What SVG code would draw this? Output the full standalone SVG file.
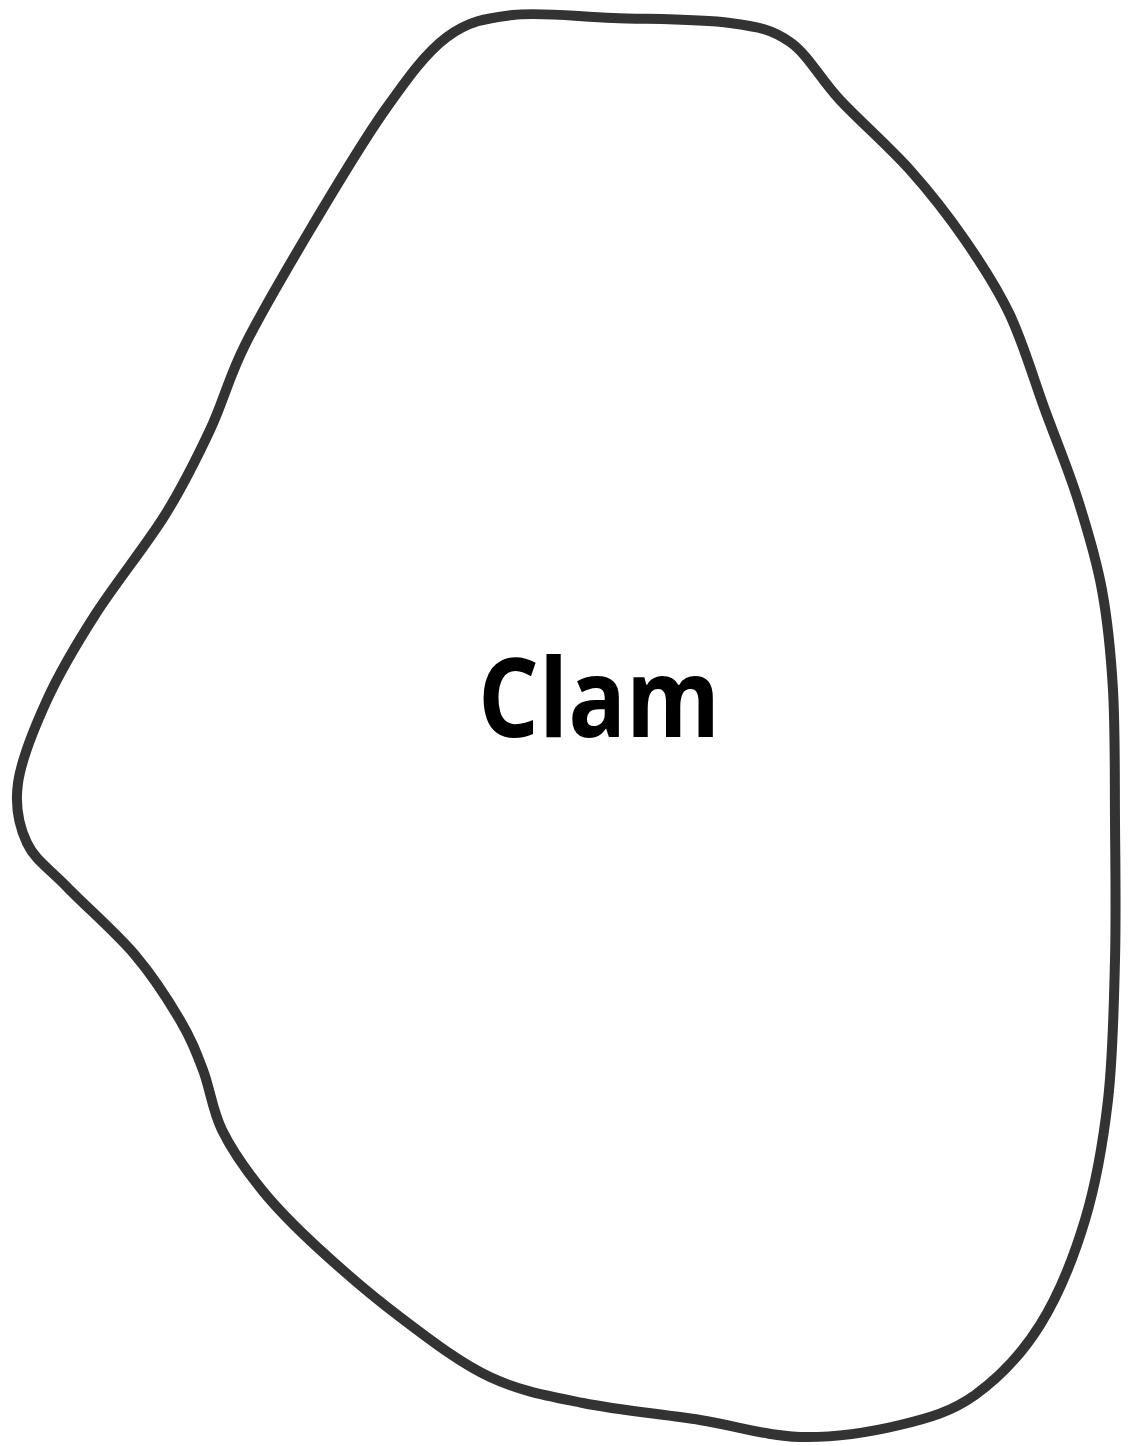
<svg xmlns="http://www.w3.org/2000/svg" width="1131" height="1446" viewBox="0 0 1131 1446">
<style>
.outline{fill:#ffffff;stroke:#333333;stroke-width:10;stroke-linejoin:round}
.label{font-family:"Open Sans","Liberation Sans",sans-serif;font-weight:700;font-size:110px;fill:#000000}
</style>
<rect width="1131" height="1446" fill="#ffffff"/>
<g id="clam">
<path class="outline" d="M 513 15 C 540.7 11.8, 576.8 16.7, 613 18 C 649.2 19.3, 700.5 19, 730 23 C 759.5 27, 771.7 29.2, 790 42 C 808.3 54.8, 820 78.7, 840 100 C 860 121.3, 889.2 146.7, 910 170 C 930.8 193.3, 948.3 215.8, 965 240 C 981.7 264.2, 996.7 286.7, 1010 315 C 1023.3 343.3, 1033.7 379.2, 1045 410 C 1056.3 440.8, 1068.5 470, 1078 500 C 1087.5 530, 1096.2 558.3, 1102 590 C 1107.8 621.7, 1110.8 651.7, 1113 690 C 1115.2 728.3, 1114.7 775, 1115 820 C 1115.3 865, 1116.2 913.3, 1115 960 C 1113.8 1006.7, 1113 1056.7, 1108 1100 C 1103 1143.3, 1096.3 1182.5, 1085 1220 C 1073.7 1257.5, 1058.3 1295.8, 1040 1325 C 1021.7 1354.2, 998.3 1378.3, 975 1395 C 951.7 1411.7, 929.2 1418, 900 1425 C 870.8 1432, 833.3 1437.8, 800 1437 C 766.7 1436.2, 736.2 1425.7, 700 1420 C 663.8 1414.3, 618 1410.2, 583 1403 C 548 1395.8, 520.5 1391.3, 490 1377 C 459.5 1362.7, 428.8 1338.7, 400 1317 C 371.2 1295.3, 340 1268.2, 317 1247 C 294 1225.8, 277.8 1209.5, 262 1190 C 246.2 1170.5, 231.8 1150, 222 1130 C 212.2 1110, 210 1088.3, 203 1070 C 196 1051.7, 191.3 1039.2, 180 1020 C 168.7 1000.8, 153.8 977.2, 135 955 C 116.2 932.8, 85 905.7, 67 887 C 49 868.3, 35.2 860.3, 27 843 C 18.8 825.7, 14.7 806.8, 18 783 C 21.3 759.2, 34.2 728, 47 700 C 59.8 672, 75.3 645.8, 95 615 C 114.7 584.2, 145.8 545.8, 165 515 C 184.2 484.2, 196.7 458.3, 210 430 C 223.3 401.7, 228.3 378.3, 245 345 C 261.7 311.7, 286.7 269.2, 310 230 C 333.3 190.8, 362.2 142.2, 385 110 C 407.8 77.8, 425.7 52.8, 447 37 C 468.3 21.2, 485.3 18.2, 513 15 Z"/>
<text class="label" x="599" y="737" text-anchor="middle" textLength="242" lengthAdjust="spacingAndGlyphs">Clam</text>
</g>
</svg>
